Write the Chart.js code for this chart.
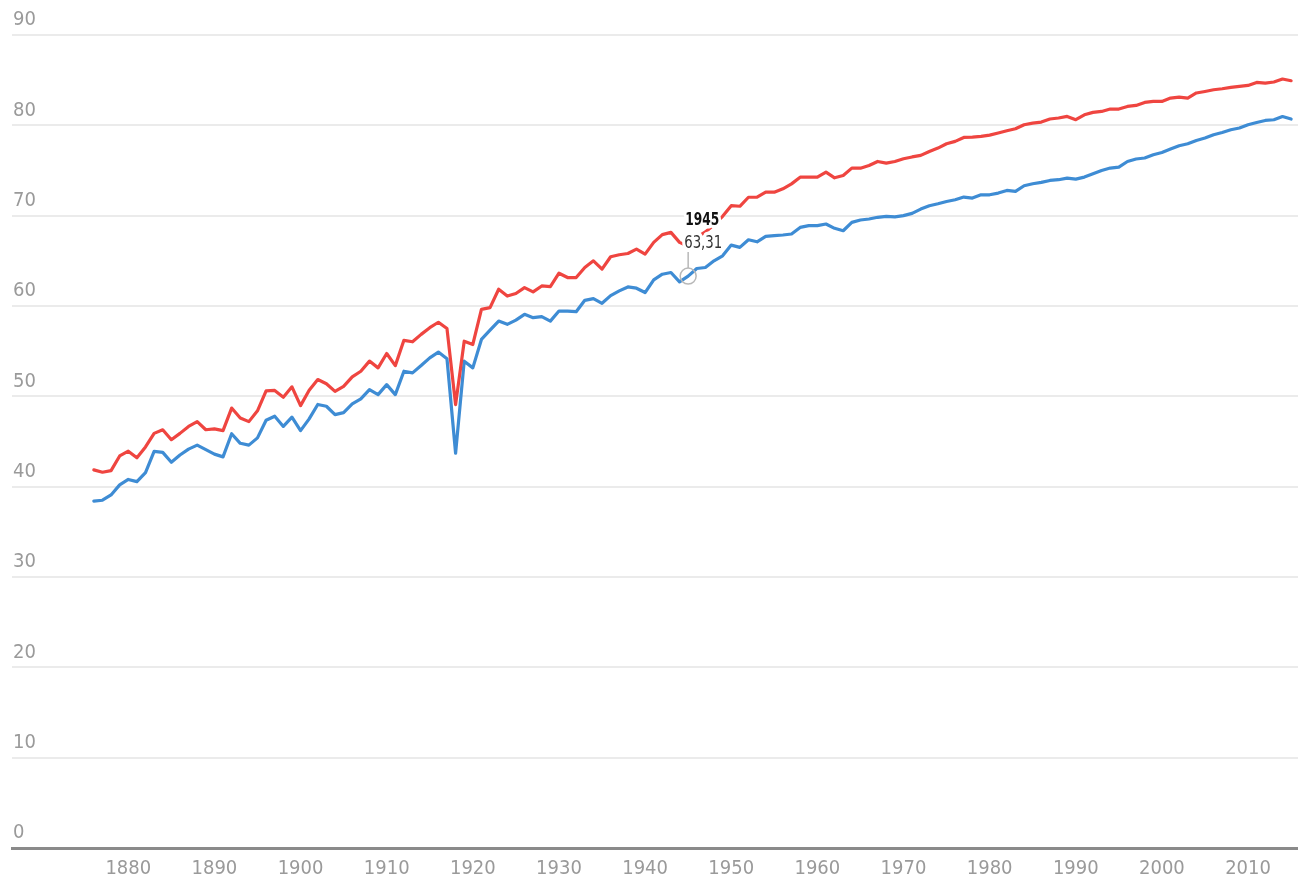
<!DOCTYPE html>
<html>
<head>
<meta charset="utf-8">
<script src="https://cdn.jsdelivr.net/npm/chart.js@4/dist/chart.umd.min.js"></script>
<style>
  html, body { margin: 0; padding: 0; background: #ffffff; overflow: hidden; }
  canvas { display: block; }
</style>
</head>
<body>
<canvas id="chart" width="1298" height="877"></canvas>
<script>
// ---- Data ----
const years = [
  1876,1877,1878,1879,1880,1881,1882,1883,1884,1885,1886,1887,1888,1889,
  1890,1891,1892,1893,1894,1895,1896,1897,1898,1899,1900,1901,1902,1903,1904,
  1905,1906,1907,1908,1909,1910,1911,1912,1913,1914,1915,1916,1917,1918,1919,
  1920,1921,1922,1923,1924,1925,1926,1927,1928,1929,1930,1931,1932,1933,1934,
  1935,1936,1937,1938,1939,1940,1941,1942,1943,1944,1945,1946,1947,1948,1949,
  1950,1951,1952,1953,1954,1955,1956,1957,1958,1959,1960,1961,1962,1963,1964,
  1965,1966,1967,1968,1969,1970,1971,1972,1973,1974,1975,1976,1977,1978,1979,
  1980,1981,1982,1983,1984,1985,1986,1987,1988,1989,1990,1991,1992,1993,1994,
  1995,1996,1997,1998,1999,2000,2001,2002,2003,2004,2005,2006,2007,2008,2009,
  2010,2011,2012,2013,2014,2015
];

// red series
const women = [
  41.86,41.60,41.78,43.40,43.93,43.20,44.40,45.90,46.30,45.20,45.90,46.67,47.20,46.30,
  46.40,46.20,48.70,47.60,47.20,48.40,50.60,50.65,49.90,51.05,48.97,50.67,51.86,51.40,50.55,
  51.10,52.15,52.78,53.90,53.15,54.74,53.40,56.20,56.04,56.86,57.60,58.20,57.50,49.08,56.10,
  55.74,59.63,59.82,61.86,61.10,61.38,62.04,61.56,62.22,62.15,63.63,63.15,63.15,64.26,65.00,
  64.08,65.45,65.67,65.81,66.30,65.74,67.04,67.90,68.15,67.04,66.60,67.60,68.20,69.00,69.93,
  71.11,71.04,72.04,72.04,72.60,72.60,72.97,73.52,74.26,74.26,74.26,74.82,74.19,74.44,75.26,
  75.26,75.56,76.00,75.82,76.00,76.30,76.50,76.67,77.11,77.48,77.96,78.22,78.66,78.70,78.77,
  78.92,79.15,79.40,79.62,80.07,80.25,80.36,80.70,80.81,80.99,80.62,81.17,81.43,81.54,81.80,
  81.80,82.09,82.20,82.54,82.65,82.65,83.02,83.13,83.02,83.58,83.75,83.94,84.05,84.20,84.31,
  84.42,84.75,84.68,84.80,85.13,84.94
];

// blue series
const men = [
  38.40,38.50,39.08,40.20,40.80,40.56,41.56,43.90,43.80,42.70,43.50,44.16,44.60,44.10,
  43.60,43.30,45.86,44.80,44.60,45.40,47.35,47.80,46.67,47.70,46.20,47.50,49.10,48.90,47.97,
  48.20,49.16,49.71,50.74,50.19,51.30,50.19,52.78,52.60,53.41,54.26,54.90,54.16,43.70,53.89,
  53.15,56.30,57.33,58.33,57.97,58.44,59.08,58.71,58.82,58.33,59.44,59.44,59.37,60.63,60.82,
  60.30,61.15,61.67,62.11,61.97,61.49,62.89,63.52,63.71,62.67,63.31,64.15,64.26,65.00,65.56,
  66.74,66.49,67.33,67.11,67.71,67.78,67.86,67.97,68.70,68.89,68.89,69.08,68.60,68.33,69.26,
  69.52,69.63,69.82,69.93,69.86,70.00,70.25,70.73,71.10,71.32,71.57,71.76,72.06,71.95,72.31,
  72.31,72.50,72.79,72.68,73.31,73.53,73.68,73.90,73.98,74.16,74.05,74.27,74.64,75.00,75.27,
  75.38,76.00,76.27,76.38,76.74,77.00,77.37,77.74,77.96,78.33,78.59,78.96,79.21,79.51,79.70,
  80.07,80.32,80.54,80.62,80.98,80.70
];

const xTickValues = [1880,1890,1900,1910,1920,1930,1940,1950,1960,1970,1980,1990,2000,2010];
const yTickValues = [0,10,20,30,40,50,60,70,80,90];
const highlightYear = 1945;

// ---- Styling ----
const FONT = '"Liberation Sans Narrow", "Arial Narrow", "DejaVu Sans Condensed", "Liberation Sans", sans-serif';
const RED = '#ef4540';
const BLUE = '#3e8cd4';

function haloText(ctx, text, x, y, font, color, squeeze) {
  ctx.save();
  ctx.translate(x, y);
  ctx.scale(squeeze, 1);
  ctx.font = font;
  ctx.textAlign = 'left';
  ctx.textBaseline = 'alphabetic';
  ctx.lineJoin = 'round';
  ctx.strokeStyle = '#ffffff';
  ctx.lineWidth = 7;
  ctx.strokeText(text, 0, 0);
  ctx.fillStyle = color;
  ctx.fillText(text, 0, 0);
  ctx.restore();
}

const highlightPlugin = {
  id: 'highlightPoint',
  afterDatasetsDraw(chart) {
    const idx = years.indexOf(highlightYear);
    const meta = chart.getDatasetMeta(1);
    const pt = meta.data[idx];
    if (!pt) return;
    const cx = pt.x, cy = pt.y;
    const ctx = chart.ctx;
    ctx.save();
    ctx.strokeStyle = '#b8b8b8';
    ctx.lineWidth = 1.5;
    ctx.beginPath();
    ctx.moveTo(cx, cy - 24);
    ctx.lineTo(cx, cy - 8);
    ctx.stroke();
    ctx.beginPath();
    ctx.arc(cx, cy, 8, 0, Math.PI * 2);
    ctx.stroke();
    ctx.restore();

    const yearText = String(years[idx]);
    const valueText = men[idx].toFixed(2).replace('.', ',');
    haloText(ctx, yearText, cx - 3, cy - 51, 'bold 17px ' + FONT, '#111111', 0.8);
    haloText(ctx, valueText, cx - 4, cy - 28, '17px ' + FONT, '#333333', 0.87);
  }
};

const toPoints = arr => arr.map((v, i) => ({ x: years[i], y: v }));

new Chart(document.getElementById('chart'), {
  type: 'line',
  data: {
    datasets: [
      {
        label: 'Mujeres',
        data: toPoints(women),
        borderColor: RED,
        borderWidth: 3.2,
        pointRadius: 0,
        tension: 0,
        fill: false,
        borderJoinStyle: 'round',
        borderCapStyle: 'round'
      },
      {
        label: 'Hombres',
        data: toPoints(men),
        borderColor: BLUE,
        borderWidth: 3.2,
        pointRadius: 0,
        tension: 0,
        fill: false,
        borderJoinStyle: 'round',
        borderCapStyle: 'round'
      }
    ]
  },
  options: {
    responsive: false,
    animation: false,
    devicePixelRatio: 1,
    layout: { padding: { top: 35, left: 12, right: 0, bottom: 0 } },
    plugins: {
      legend: { display: false },
      tooltip: { enabled: false }
    },
    scales: {
      x: {
        type: 'linear',
        min: 1866.5,
        max: 2015.8,
        afterBuildTicks: s => { s.ticks = xTickValues.map(v => ({ value: v })); },
        afterFit: s => { s.height = 29; },
        grid: { display: false, drawTicks: false },
        border: { display: true, color: '#8a8a8a', width: 3 },
        ticks: {
          autoSkip: false,
          maxRotation: 0,
          padding: 9,
          color: '#9a9a9a',
          font: { family: FONT, size: 20 },
          callback: v => String(v)
        }
      },
      y: {
        type: 'linear',
        min: 0,
        max: 90,
        afterBuildTicks: s => { s.ticks = yTickValues.map(v => ({ value: v })); },
        afterFit: s => { s.width = 0; },
        grid: {
          drawTicks: false,
          lineWidth: 2,
          color: ctx => (ctx.tick && ctx.tick.value === 0) ? 'rgba(0,0,0,0)' : '#ebebeb'
        },
        border: { display: false },
        ticks: {
          mirror: true,
          padding: 1,
          labelOffset: -15,
          color: '#9a9a9a',
          font: { family: FONT, size: 20 }
        }
      }
    }
  },
  plugins: [highlightPlugin]
});
</script>
</body>
</html>
